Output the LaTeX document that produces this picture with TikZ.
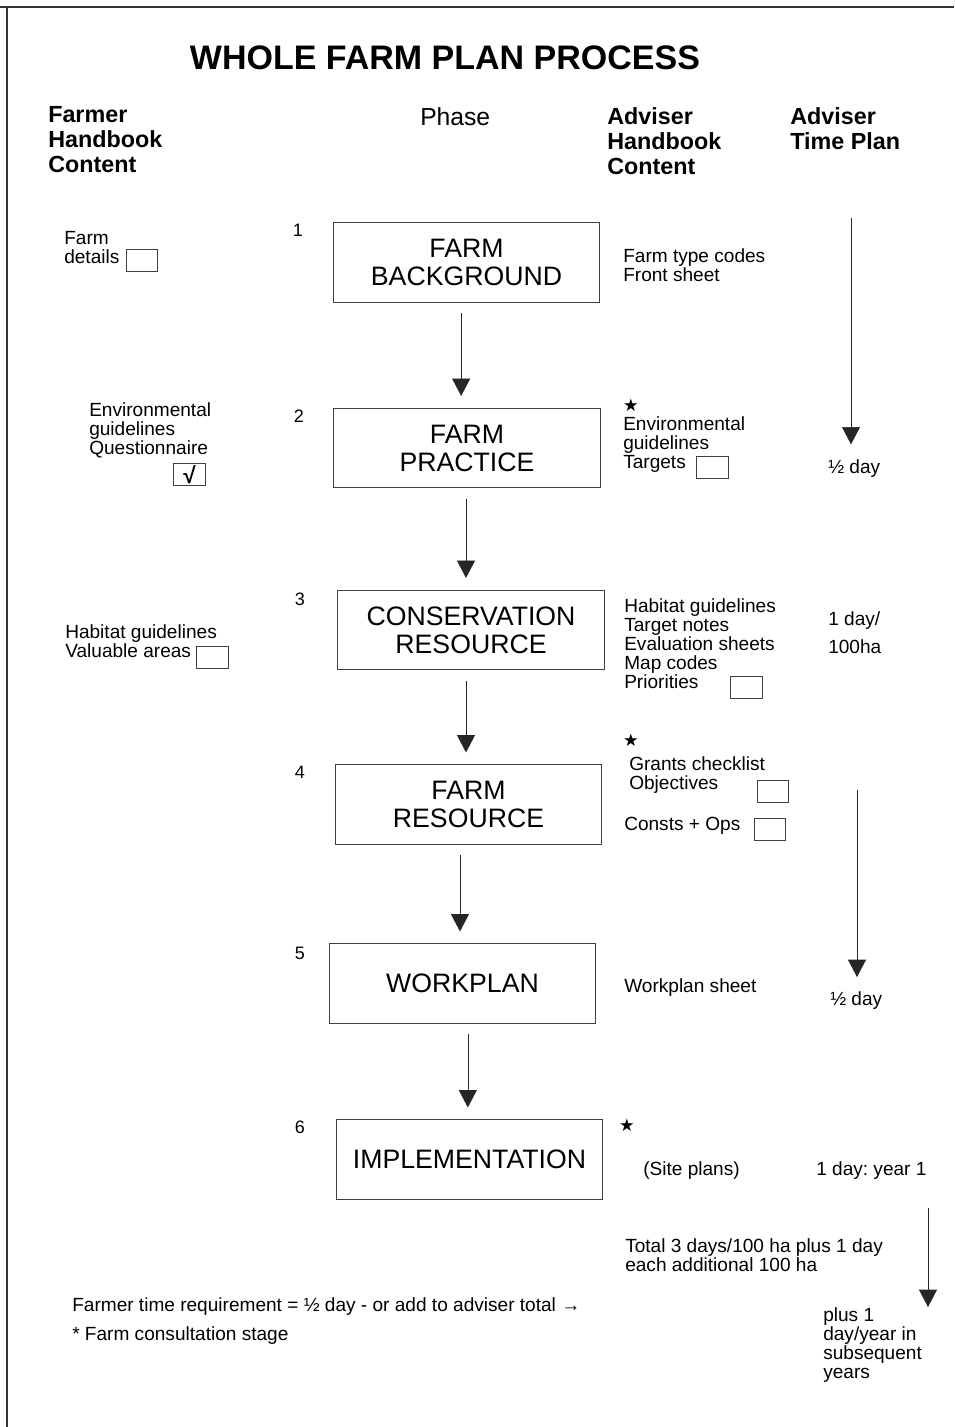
\documentclass[tikz,border=0pt]{standalone}
\usepackage{fontspec}
\setmainfont{Liberation Sans}
\newfontfamily\symfont{DejaVu Sans}
\usetikzlibrary{positioning, arrows.meta}
\frenchspacing

\tikzset{
  phase/.style={draw=black!75, line width=0.6pt, minimum width=200pt, minimum height=59.5pt,
    align=center, font=\fontsize{20}{21}\selectfont},
  txt/.style={anchor=north west, inner sep=0pt, align=left, font=\fontsize{14.3}{14.3}\selectfont},
  head/.style={anchor=north west, inner sep=0pt, align=left, font=\fontsize{17.5}{19}\selectfont\bfseries},
  num/.style={inner sep=0pt, font=\fontsize{13.5}{14}\selectfont},
  tick/.style={draw=black!75, line width=0.6pt, minimum width=23.5pt, minimum height=17pt, inner sep=0pt},
  starmark/.style={inner sep=0pt, font=\symfont\fontsize{13}{13}\selectfont},
  flow/.style={-{Triangle[length=13pt,width=13.5pt]}, line width=0.5pt, black!85},
}

\begin{document}
\begin{tikzpicture}[x=0.75pt, y=-0.75pt]
\useasboundingbox (0,0) rectangle (954,1427);
\draw[line width=1.5pt, black!80] (0,7) -- (954,7) (7,7) -- (7,1427);

\node[font=\fontsize{25.5}{26}\selectfont\bfseries] (title) at (445,58) {WHOLE FARM PLAN PROCESS};
\node[head] (hfarmer) at (48,106) {Farmer\\Handbook\\Content};
\node[head, font=\fontsize{18.5}{19}\selectfont] (hphase) at (420,107) {Phase};
\node[head] (hadv) at (607,107) {Adviser\\Handbook\\Content};
\node[head] (htime) at (790,107) {Adviser\\Time Plan};

% phases
\node[phase] (b1) at (466.5,262.5) {FARM\\BACKGROUND};
\node[phase] (b2) at (467,448) {FARM\\PRACTICE};
\node[phase] (b3) at (471,630) {CONSERVATION\\RESOURCE};
\node[phase] (b4) at (468.5,804.5) {FARM\\RESOURCE};
\node[phase] (b5) at (462.5,983.5) {WORKPLAN};
\node[phase] (b6) at (469.5,1159.5) {IMPLEMENTATION};

\node[num] (n1) at (298,230) {1};
\node[num] (n2) at (299,416) {2};
\node[num] (n3) at (300,599) {3};
\node[num] (n4) at (300,772) {4};
\node[num] (n5) at (300,953) {5};
\node[num] (n6) at (300,1127) {6};

\draw[flow, shorten <=8pt, shorten >=9pt] ([xshift=-4pt]b1.south) -- ([xshift=-4pt]b1.south |- b2.north);
\draw[flow, shorten <=8pt, shorten >=9pt] ([xshift=-0.75pt]b2.south) -- ([xshift=-0.75pt]b2.south |- b3.north);
\draw[flow, shorten <=8pt, shorten >=9pt] ([xshift=-3.75pt]b3.south) -- ([xshift=-3.75pt]b3.south |- b4.north);
\draw[flow, shorten <=8pt, shorten >=9pt] ([xshift=-6.4pt]b4.south) -- ([xshift=-6.4pt]b4.south |- b5.north);
\draw[flow, shorten <=8pt, shorten >=9pt] ([xshift=4pt]b5.south) -- ([xshift=4pt]b5.south |- b6.north);

% farmer handbook
\node[txt] (fdet) at (64,231) {Farm\\details};
\node[tick] (kfdet) at (142,260.5) {};
\node[txt] (fenv) at (89,402) {Environmental\\guidelines\\Questionnaire};
\node[tick, font=\fontsize{17}{17}\selectfont\bfseries] (kfenv) at (189.5,474.5) {√};
\node[txt] (fhab) at (65,624) {Habitat guidelines\\Valuable areas};
\node[tick] (kfhab) at (212.5,657.5) {};

% adviser handbook
\node[txt] (aft) at (623,248) {Farm type codes\\Front sheet};
\node[starmark] (s1) at (631,405) {★};
\node[txt] (aenv) at (623,416) {Environmental\\guidelines\\Targets};
\node[tick] (kaenv) at (712.5,467.5) {};
\node[txt] (ahab) at (624,598) {Habitat guidelines\\Target notes\\Evaluation sheets\\Map codes\\Priorities};
\node[tick] (kahab) at (746.5,687.5) {};
\node[starmark] (s2) at (631,740) {★};
\node[txt] (agc) at (629,756) {Grants checklist\\Objectives};
\node[tick] (kagc) at (773,791.5) {};
\node[txt] (aco) at (624,817) {Consts + Ops};
\node[tick] (kaco) at (770,829.5) {};
\node[txt] (aws) at (624,978) {Workplan sheet};
\node[starmark] (s3) at (627,1125) {★};
\node[txt] (asp) at (643,1161) {(Site plans)};
\node[txt] (atot) at (625,1238) {Total 3 days/100 ha plus 1 day\\each additional 100 ha};

% time plan
\coordinate (t1) at (851,218);
\node[txt] (d1) at (828,459) {½ day};
\draw[flow, shorten >=11pt] (t1) -- (t1 |- d1.north);
\node[txt] (d2) at (828,611) {1 day/\\[7pt]100ha};
\coordinate (t2) at (857,790);
\node[txt] (d3) at (830,991) {½ day};
\draw[flow, shorten >=10.5pt] (t2) -- (t2 |- d3.north);
\node[txt] (d4) at (816,1161) {1 day: year 1};
\coordinate (t3) at (928,1208);
\coordinate (t3e) at (928,1307);
\draw[flow] (t3) -- (t3e);
\node[txt] (d5) at (823,1307) {plus 1\\day/year in\\subsequent\\years};

% footnotes
\node[txt] (foot1) at (72,1297) {Farmer time requirement = ½ day - or add to adviser total →};
\node[txt] (foot2) at (72,1326) {* Farm consultation stage};
\end{tikzpicture}
\end{document}
